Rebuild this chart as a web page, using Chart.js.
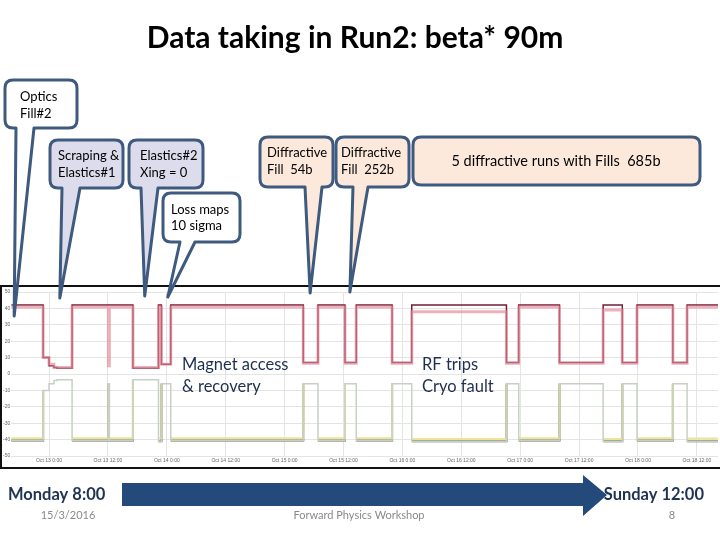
<!DOCTYPE html>
<html>
<head>
<meta charset="utf-8">
<script src="https://cdn.jsdelivr.net/npm/chart.js@4"></script>
<style>
  body { margin: 0; background: #fff; }
  canvas { display: block; }
</style>
</head>
<body>
<canvas id="slide" width="720" height="540"></canvas>
<script>
// hours counted from Oct 13 0:00
var hours = [-7.7, -1.2, 0, 1.0, 1.6, 4.7, 12.1, 12.3, 17.1, 22.3, 22.9, 24.8, 51.8, 54.8, 60.3, 62.6, 69.9, 73.9, 93.2, 95.7, 104.0, 112.9, 116.8, 119.8, 127.1, 130.0, 136.3]
var beam1Upper = [40.8, 10, 6, 4, 4, 40.8, 5, 40.8, 4, 40.8, 6, 40.8, 6.5, 40.8, 6.5, 40.8, 6.5, 38, 6.5, 40.8, 6.5, 39, 6.5, 40.8, 6.5, 40.8, 40.8]
var beam2Upper = [42, 10, 5, 4, 3.5, 42, 42, 42, 3.5, 42, 6, 42, 7, 42, 7, 42, 7, 42, 7, 42, 7, 42, 7, 42, 7, 42, 42]
var lowerA = [-40.5, -10, -6, -4, -3.5, -40.5, -6, -40.5, -3.5, -41, -6, -40.5, -6, -40.5, -6, -40.5, -6, -41, -6, -40.5, -6, -41, -6, -40.5, -6, -41, -41]
var lowerB = [-39.2, -10, -6, -4, -3.5, -39.2, -6, -39.2, -3.5, -39.2, -6, -39.2, -6, -39.2, -6, -39.2, -6, -39.6, -6, -39.2, -6, -39.6, -6, -39.2, -6, -39.4, -39.4]

var tickHours = [0, 12, 24, 36, 48, 60, 72, 84, 96, 108, 120, 132]
var tickLabels = ['Oct 13 0:00', 'Oct 13 12:00', 'Oct 14 0:00', 'Oct 14 12:00', 'Oct 15 0:00', 'Oct 15 12:00',
    'Oct 16 0:00', 'Oct 16 12:00', 'Oct 17 0:00', 'Oct 17 12:00', 'Oct 18 0:00', 'Oct 18 12:00']

// callouts: text, the hour its tail points at
var calloutText = [['Optics', 'Fill#2'], ['Scraping &', 'Elastics#1'], ['Elastics#2', 'Xing = 0'], ['Loss maps', '10 sigma'],
    ['Diffractive', 'Fill  54b'], ['Diffractive', 'Fill  252b'], ['5 diffractive runs with Fills  685b']]
var calloutHour = [-7.1, 2.2, 19.5, 24.2, 53.2, 61.3, null]

function points(values) {
    return values.map(function(v, i) { return { x: hours[i], y: v } })
}

// layout of the callout boxes: [left, top, right, bottom], tail base, tip y, fill
var calloutBoxes = [
    { box: [5, 80, 77, 128], base: [16, 34], tipY: 316, fill: '#ffffff', tx: 20, ty: [97, 114], size: 13 },
    { box: [50, 140, 123, 188], base: [62, 80], tipY: 298, fill: '#dcdcec', tx: 58, ty: [156, 173], size: 13 },
    { box: [129, 140, 203, 188], base: [141, 158], tipY: 296, fill: '#dcdcec', tx: 140, ty: [156, 173], size: 13 },
    { box: [163, 193, 240, 242], base: [180, 195], tipY: 297, fill: '#ffffff', tx: 171, ty: [210, 226], size: 13 },
    { box: [260, 137, 333, 187], base: [305, 322], tipY: 293, fill: '#fde9dc', tx: 267, ty: [153, 170], size: 13 },
    { box: [336, 137, 409, 187], base: [353, 368], tipY: 292, fill: '#fde9dc', tx: 341, ty: [153, 170], size: 13 },
    { box: [413, 137, 700, 185], base: null, tipY: null, fill: '#fde9dc', tx: 556, ty: [161], size: 14.5 }
]

function calloutPath(ctx, c, tipX) {
    var l = c.box[0], t = c.box[1], r = c.box[2], b = c.box[3], rad = 8
    ctx.beginPath()
    ctx.moveTo(l + rad, t)
    ctx.lineTo(r - rad, t)
    ctx.quadraticCurveTo(r, t, r, t + rad)
    ctx.lineTo(r, b - rad)
    ctx.quadraticCurveTo(r, b, r - rad, b)
    if (c.base) {
        ctx.lineTo(c.base[1], b)
        ctx.lineTo(tipX, c.tipY)
        ctx.lineTo(c.base[0], b)
    }
    ctx.lineTo(l + rad, b)
    ctx.quadraticCurveTo(l, b, l, b - rad)
    ctx.lineTo(l, t + rad)
    ctx.quadraticCurveTo(l, t, l + rad, t)
    ctx.closePath()
}

var slidePlugin = {
    id: 'slide',
    beforeDraw: function(chart) {
        var ctx = chart.ctx
        ctx.save()
        ctx.fillStyle = '#fff'
        ctx.fillRect(0, 0, chart.width, chart.height)
        ctx.restore()
    },
    afterDraw: function(chart) {
        var ctx = chart.ctx
        var xs = chart.scales.x
        ctx.save()
        // frame round the plot
        ctx.strokeStyle = '#111'
        ctx.lineWidth = 2
        ctx.strokeRect(1, 286, 722, 182)

        // title
        ctx.fillStyle = '#000'
        ctx.font = 'bold 30px Lato'
        ctx.textAlign = 'center'
        ctx.textBaseline = 'alphabetic'
        ctx.fillText('Data taking in Run2: beta* 90m', 355, 48)

        // callouts
        calloutBoxes.forEach(function(c, i) {
            var tipX = calloutHour[i] === null ? 0 : xs.getPixelForValue(calloutHour[i])
            calloutPath(ctx, c, tipX)
            ctx.fillStyle = c.fill
            ctx.fill()
            ctx.strokeStyle = '#3e5a7e'
            ctx.lineWidth = 3
            ctx.lineJoin = 'round'
            ctx.stroke()
            ctx.fillStyle = '#000'
            ctx.font = c.size + 'px Lato'
            ctx.textBaseline = 'middle'
            ctx.textAlign = c.base ? 'left' : 'center'
            calloutText[i].forEach(function(line, j) {
                ctx.fillText(line, c.tx, c.ty[j])
            })
        })

        // notes inside plot
        ctx.fillStyle = '#1f2f4f'
        ctx.font = '16.5px Lato'
        ctx.textAlign = 'left'
        ctx.fillText('Magnet access', 182, 365)
        ctx.fillText('& recovery', 182, 387)
        ctx.fillText('RF trips', 422, 365)
        ctx.fillText('Cryo fault', 422, 387)

        // time arrow
        ctx.fillStyle = '#234a7b'
        ctx.beginPath()
        ctx.moveTo(122, 483)
        ctx.lineTo(583, 483)
        ctx.lineTo(583, 475)
        ctx.lineTo(607, 495)
        ctx.lineTo(583, 516)
        ctx.lineTo(583, 506)
        ctx.lineTo(122, 506)
        ctx.closePath()
        ctx.fill()

        ctx.fillStyle = '#1f3352'
        ctx.font = 'bold 16.5px Lato'
        ctx.textAlign = 'left'
        ctx.fillText('Monday 8:00', 8, 495)
        ctx.textAlign = 'right'
        ctx.fillText('Sunday 12:00', 704, 495)

        ctx.fillStyle = '#8a8a8a'
        ctx.font = '11px Lato'
        ctx.textAlign = 'center'
        ctx.fillText('15/3/2016', 68, 515)
        ctx.fillText('Forward Physics Workshop', 359, 515)
        ctx.fillText('8', 672, 515)
        ctx.restore()
    }
}

function lowColor(dark) {
    return function(c) { return c.p0.parsed.y < -30 ? dark : 'rgba(0,0,0,0)' }
}

var ctx = document.getElementById('slide').getContext('2d')
var chart = new Chart(ctx, {
    type: 'line',
    data: {
        datasets: [
            { label: 'lower level', data: points(lowerA), borderColor: '#c6d1c4', borderWidth: 1.5 },
            { label: 'lower B', data: points(lowerB), borderColor: '#efe397', borderWidth: 2,
              segment: { borderColor: lowColor('#efe397') } },
            { label: 'lower A', data: points(lowerA), borderColor: '#55584f', borderWidth: 2,
              segment: { borderColor: lowColor('#55584f') } },
            { label: 'beam 1', data: points(beam1Upper), borderColor: 'rgba(228,135,150,0.65)', borderWidth: 3 },
            { label: 'beam 2', data: points(beam2Upper), borderColor: '#741d38', borderWidth: 1.5 }
        ]
    },
    options: {
        responsive: false,
        animation: false,
        devicePixelRatio: 1,
        layout: { padding: { top: 292, left: 2, right: 2, bottom: 74 } },
        elements: { point: { radius: 0 }, line: { stepped: true, tension: 0 } },
        plugins: { legend: { display: false }, tooltip: { enabled: false }, title: { display: false } },
        scales: {
            x: {
                type: 'linear',
                min: -7.7,
                max: 136.3,
                afterBuildTicks: function(axis) {
                    axis.ticks = tickHours.map(function(h) { return { value: h } })
                },
                ticks: {
                    autoSkip: false,
                    maxRotation: 0,
                    padding: 2,
                    color: '#666',
                    font: { size: 5 },
                    callback: function(v) { return tickLabels[tickHours.indexOf(v)] }
                },
                grid: { color: '#e4e4e4', drawTicks: false },
                border: { display: false }
            },
            y: {
                min: -50,
                max: 50,
                ticks: { stepSize: 10, padding: 1, color: '#666', font: { size: 5 } },
                grid: { color: '#e4e4e4', drawTicks: false },
                border: { display: false }
            }
        }
    },
    plugins: [slidePlugin]
})
</script>
</body>
</html>
